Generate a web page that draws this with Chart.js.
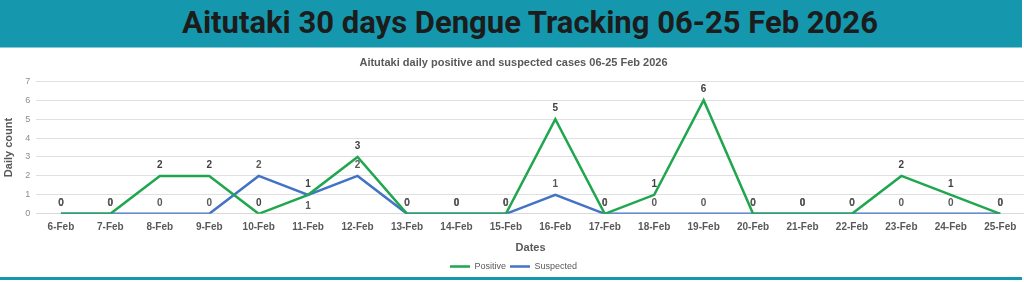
<!DOCTYPE html>
<html>
<head>
<meta charset="utf-8">
<script src="https://cdn.jsdelivr.net/npm/chart.js@4/dist/chart.umd.min.js"></script>
<style>
  html, body { margin: 0; padding: 0; width: 1024px; height: 282px; overflow: hidden; background: #fff; }
  .header {
    position: absolute; left: 0; top: 0; width: 1022px; height: 48px;
    background: #1598ad; border-bottom: 1px solid #8fc9d3;
    font-family: Roboto, sans-serif; font-weight: bold; font-size: 31px;
    color: #1c1c1c; text-align: center; line-height: 46px; padding-left: 38px; box-sizing: border-box;
  }
  .wrap { position: absolute; left: 0; top: 50px; width: 1030px; height: 231px; }
  .footer { position: absolute; left: 0; top: 277px; width: 1022px; height: 3px; background: #1598ad; }
</style>
</head>
<body>
<div class="header">Aitutaki 30 days Dengue Tracking 06-25 Feb 2026</div>
<div class="wrap"><canvas id="casesChart"></canvas></div>
<div class="footer"></div>
<script>
// ===== data =====
const dates = ['6-Feb', '7-Feb', '8-Feb', '9-Feb', '10-Feb', '11-Feb', '12-Feb', '13-Feb', '14-Feb', '15-Feb',
  '16-Feb', '17-Feb', '18-Feb', '19-Feb', '20-Feb', '21-Feb', '22-Feb', '23-Feb', '24-Feb', '25-Feb'];
const positive = [0, 0, 2, 2, 0, 1, 3, 0, 0, 0, 5, 0, 1, 6, 0, 0, 0, 2, 1, 0];
const suspected = [0, 0, 0, 0, 2, 1, 2, 0, 0, 0, 1, 0, 0, 0, 0, 0, 0, 0, 0, 0];
const yTicks = [0, 1, 2, 3, 4, 5, 6, 7];

// value labels above each point (suspected goes under when it sits on the positive label)
const valueLabels = {
  id: 'valueLabels',
  afterDatasetsDraw(chart) {
    const ctx = chart.ctx;
    ctx.save();
    ctx.font = 'bold 10px "Liberation Sans", Arial, sans-serif';
    ctx.textAlign = 'center';
    ctx.textBaseline = 'middle';
    chart.data.datasets.forEach((ds, di) => {
      const meta = chart.getDatasetMeta(di);
      meta.data.forEach((pt, i) => {
        let dy = -11;
        if (di === 1 && ds.data[i] === positive[i] && ds.data[i] > 0) dy = 11;
        ctx.fillStyle = di === 0 ? '#404040' : '#595959';
        ctx.fillText(ds.data[i], pt.x, pt.y + dy);
      });
    });
    ctx.restore();
  }
};

const font = '"Liberation Sans", Arial, sans-serif';

new Chart(document.getElementById('casesChart'), {
  type: 'line',
  data: {
    labels: dates,
    datasets: [
      { label: 'Positive', data: positive, borderColor: '#1fa64e', backgroundColor: '#1fa64e',
        borderWidth: 2.5, pointRadius: 0, tension: 0 },
      { label: 'Suspected', data: suspected, borderColor: '#4472c4', backgroundColor: '#4472c4',
        borderWidth: 2.5, pointRadius: 0, tension: 0 }
    ]
  },
  options: {
    responsive: true,
    maintainAspectRatio: false,
    animation: false,
    layout: { padding: { left: 2, right: 5, top: 0, bottom: 0 } },
    plugins: {
      title: {
        display: true,
        text: 'Aitutaki daily positive and suspected cases 06-25 Feb 2026',
        color: '#595959',
        font: { family: font, size: 11, weight: 'bold' },
        padding: { top: 6, bottom: 12 }
      },
      legend: {
        position: 'bottom',
        labels: {
          usePointStyle: true, pointStyle: 'line', pointStyleWidth: 20, boxHeight: 9,
          color: '#595959', font: { family: font, size: 9 }, padding: 4
        }
      },
      tooltip: { enabled: false }
    },
    scales: {
      x: {
        offset: true,
        grid: { display: false, drawTicks: false },
        border: { color: '#d9d9d9' },
        ticks: { color: '#595959', font: { family: font, size: 10, weight: 'bold' }, maxRotation: 0, autoSkip: false, padding: 7 },
        title: { display: true, text: 'Dates', color: '#595959', font: { family: font, size: 11, weight: 'bold' }, padding: { top: 2, bottom: 3 } }
      },
      y: {
        min: 0, max: 7,
        afterBuildTicks(axis) { axis.ticks = yTicks.map(v => ({ value: v })); },
        grid: { color: '#e0e0e0', drawTicks: false },
        border: { display: false },
        ticks: { color: '#8c8c8c', font: { family: font, size: 9 }, padding: 6 },
        title: { display: true, text: 'Daily count', color: '#595959', font: { family: font, size: 11, weight: 'bold' }, padding: { top: 0, bottom: 4 } }
      }
    }
  },
  plugins: [valueLabels]
});
</script>
</body>
</html>
